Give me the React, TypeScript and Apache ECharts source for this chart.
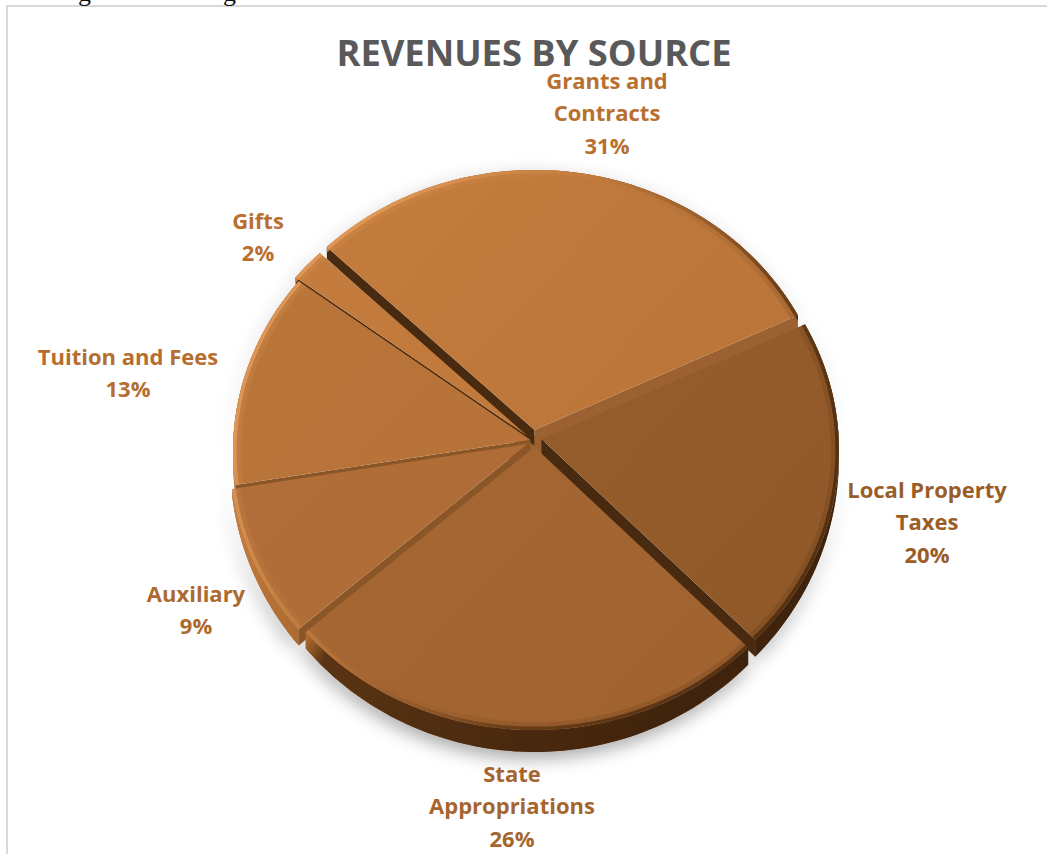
import React, { useEffect, useRef } from "react";
import * as echarts from "echarts";

const titleText = "REVENUES BY SOURCE";
const categories = ["Grants and\nContracts", "Local Property\nTaxes", "State\nAppropriations", "Auxiliary", "Tuition and Fees", "Gifts"];
const percents = [31, 20, 26, 9, 13, 2];

const FONT = "'Open Sans', sans-serif";
const START_DEG = -46;
const HUB = [534.5, 438];
const ELL = [534.5, 449.5];
const RX = 297.5;
const RY = 271.5;
const DEPTH = 22;
const offsets = [[0, -8], [7, 1], [0, 9], [-7, 6], [-4, 2], [-7, -2]];
const wallZ = [0, 10, 50, 40, 30, 20];
const faceZ = [15, 11, 51, 41, 31, 21];
const faceFrom = ["#c57e3e", "#9d6230", "#a96a35", "#b4703a", "#bb763b", "#c47d3e"];
const faceTo = ["#b56f36", "#8e5727", "#9f612e", "#aa6832", "#b26d36", "#bc7539"];
const labelColors = ["#b9702f", "#9a5d28", "#a5652e", "#ad6a30", "#b56e30", "#b9702f"];
const labelPos = [[607, 112], [927, 521], [512, 805], [196, 609], [128, 372], [258, 236]];

const rimGradient = () =>
  new echarts.graphic.LinearGradient(232, 450, 677, 717, [
    { offset: 0, color: "#e9a05e" },
    { offset: 0.33, color: "#c27b3c" },
    { offset: 0.575, color: "#8a5225" },
    { offset: 0.74, color: "#54300f" },
    { offset: 1, color: "#40230a" },
  ], true);

const wallGradient = () =>
  new echarts.graphic.LinearGradient(232, 450, 677, 717, [
    { offset: 0, color: "#cb813e" },
    { offset: 0.31, color: "#ab6a30" },
    { offset: 0.36, color: "#5a3413" },
    { offset: 1, color: "#40230c" },
  ], true);

function depthAt(deg: number): number {
  const c = Math.cos((deg * Math.PI) / 180);
  return DEPTH * (0.25 + 0.75 * Math.max(0, -c));
}

function edgePoint(deg: number, scale = 1): number[] {
  const a = (deg * Math.PI) / 180;
  const rx = RX * scale;
  const ry = RY * scale;
  const ux = (HUB[0] - ELL[0]) / rx;
  const uy = (HUB[1] - ELL[1]) / ry;
  const vx = Math.sin(a);
  const vy = -Math.cos(a);
  const b = ux * vx + uy * vy;
  const t = -b + Math.sqrt(b * b - (ux * ux + uy * uy) + 1);
  return [HUB[0] + t * vx * rx, HUB[1] + t * vy * ry];
}

function arc(from: number, to: number, off: number[], scale = 1, withDepth = false): number[][] {
  const n = Math.max(2, Math.ceil((to - from) / 1.5));
  const pts: number[][] = [];
  for (let i = 0; i <= n; i++) {
    const deg = from + ((to - from) * i) / n;
    const p = edgePoint(deg, scale);
    pts.push([p[0] + off[0], p[1] + off[1] + (withDepth ? depthAt(deg) : 0)]);
  }
  return pts;
}

function sliceRange(index: number): number[] {
  const total = percents.reduce((s, v) => s + v, 0);
  const before = percents.slice(0, index).reduce((s, v) => s + v, 0);
  return [START_DEG + (before / total) * 360, START_DEG + ((before + percents[index]) / total) * 360];
}

function renderShadow(params: any, api: any) {
  const i = params.dataIndex;
  api.value(0);
  const [from, to] = sliceRange(i);
  const off = offsets[i];
  const top = arc(from, to, off);
  const low = arc(from, to, off, 1, true).reverse();
  return {
    type: "polygon",
    shape: { points: top.concat(low) },
    style: { fill: "#8a7a6a", shadowBlur: 18, shadowColor: "rgba(0,0,0,0.36)", shadowOffsetY: 6, shadowOffsetX: -2 },
    silent: true,
  };
}

function renderSlice(params: any, api: any) {
  const i = params.dataIndex;
  const value = api.value(0);
  const [from, to] = sliceRange(i);
  const off = offsets[i];
  const apex = [HUB[0] + off[0], HUB[1] + off[1]];
  const top = arc(from, to, off);
  const face = [apex].concat(top);
  const low = arc(from, to, off, 1, true).reverse();
  const children: any[] = [];

  const radialWall = (end: number[], deg: number, nx: number, ny: number, fillOverride?: string) => {
    if (ny <= 0) return;
    const d = fillOverride ? 18 : Math.max(depthAt(deg), 12);
    children.push({
      type: "polygon",
      z2: wallZ[i],
      shape: { points: [apex, end, [end[0], end[1] + d], [apex[0], apex[1] + 16]] },
      style: { fill: fillOverride || (nx < 0 ? "#472a10" : "#8b5627") },
    });
  };
  const s = top[0];
  const e = top[top.length - 1];
  const ds = [s[0] - apex[0], s[1] - apex[1]];
  const de = [e[0] - apex[0], e[1] - apex[1]];
  if (i === 0) {
    children.push({
      type: "polygon",
      z2: -1,
      shape: {
        points: [
          [HUB[0] - 8, HUB[1]],
          [HUB[0] + 10, HUB[1] - 6],
          [HUB[0] + 10, HUB[1] + 20],
          [HUB[0] - 8, HUB[1] + 20],
        ],
      },
      style: { fill: "#9c6130" },
    });
  }
  radialWall(s, from, ds[1], -ds[0]);
  radialWall(e, to, -de[1], de[0], i === 0 ? "#9c6130" : undefined);
  children.push({
    type: "polygon",
    z2: wallZ[i] + 1,
    shape: { points: top.concat(low) },
    style: { fill: wallGradient() },
  });
  children.push({
    type: "polygon",
    z2: faceZ[i],
    shape: { points: face },
    style: {
      fill: new echarts.graphic.LinearGradient(240, 180, 830, 730, [
        { offset: 0, color: faceFrom[i] },
        { offset: 1, color: faceTo[i] },
      ], true),
    },
  });
  children.push({
    type: "polyline",
    z2: faceZ[i] + 1,
    shape: { points: arc(from, to, off, 0.986) },
    style: { fill: "none", stroke: rimGradient(), lineWidth: 8, opacity: 0.16 },
  });
  children.push({
    type: "polyline",
    z2: faceZ[i] + 2,
    shape: { points: arc(from, to, off, 0.994) },
    style: { fill: "none", stroke: rimGradient(), lineWidth: 3.5, opacity: 0.7 },
  });
  children.push({
    type: "text",
    z2: 100,
    style: {
      x: labelPos[i][0],
      y: labelPos[i][1],
      text: `${categories[i]}\n${value}%`,
      fill: labelColors[i],
      font: `bold 22px ${FONT}`,
      lineHeight: 32.5,
      align: "center",
      verticalAlign: "middle",
    },
  });
  return { type: "group", children };
}

export default function App() {
  const ref = useRef<HTMLDivElement>(null);
  useEffect(() => {
    document.body.style.margin = "0";
    const chart = echarts.init(ref.current!, null, { renderer: "svg" });
    chart.setOption({
      animation: false,
      backgroundColor: "#ffffff",
      title: {
        text: titleText,
        left: 529,
        top: 29,
        textAlign: "center",
        textStyle: { fontFamily: FONT, fontWeight: "bold", fontSize: 36.3, color: "#595959" },
      },
      graphic: [
        { type: "rect", shape: { x: 6, y: 5, width: 2, height: 849 }, style: { fill: "#d9d9d9" }, silent: true },
        { type: "rect", shape: { x: 6, y: 5, width: 1041, height: 2 }, style: { fill: "#d9d9d9" }, silent: true },
        { type: "text", x: 78, y: -21, style: { text: "g", fill: "#111", font: "26px 'Liberation Serif', serif" }, silent: true },
        { type: "text", x: 223, y: -21, style: { text: "g", fill: "#111", font: "26px 'Liberation Serif', serif" }, silent: true },
      ],
      series: [
        {
          type: "custom",
          name: "shadow",
          coordinateSystem: "none",
          z: 1,
          silent: true,
          renderItem: renderShadow,
          data: percents.map((v) => [v]),
        },
        {
          type: "custom",
          name: "Revenues",
          coordinateSystem: "none",
          z: 2,
          silent: true,
          renderItem: renderSlice,
          data: percents.map((v) => [v]),
        },
      ],
    });
    return () => chart.dispose();
  }, []);
  return <div ref={ref} style={{ width: 1047, height: 854 }} />;
}
